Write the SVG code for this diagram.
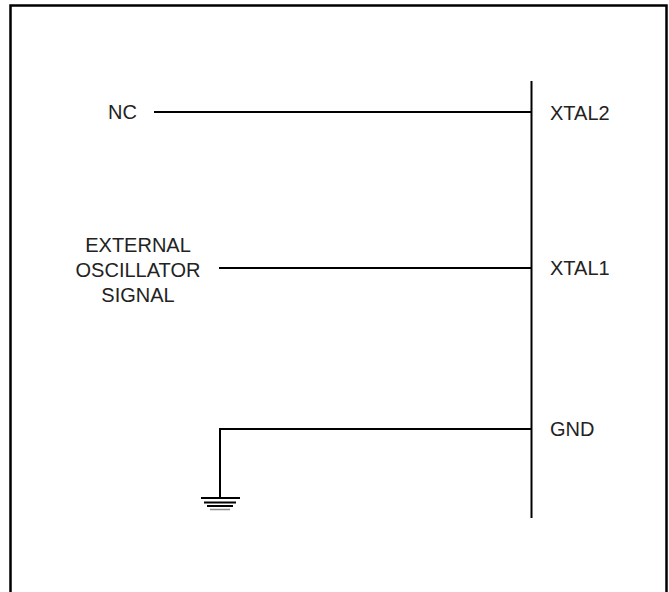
<svg xmlns="http://www.w3.org/2000/svg" width="669" height="592" viewBox="0 0 669 592">
<style>
.w{stroke:#000;stroke-width:2;fill:none}
.t{font-family:"Liberation Sans",Arial,sans-serif;font-size:20px;fill:#222}
</style>
<rect x="0" y="0" width="669" height="592" fill="#fff"/>
<rect x="10.5" y="5.5" width="656" height="600" fill="none" stroke="#000" stroke-width="2.5"/>
<g id="bus"><line class="w" x1="531.5" y1="81" x2="531.5" y2="518"/></g>
<g id="connectors">
<line class="w" x1="154" y1="112" x2="531" y2="112"/>
<line class="w" x1="219" y1="268" x2="531" y2="268"/>
<polyline class="w" points="531,429 220,429 220,498"/>
</g>
<g id="ground">
<line class="w" x1="201" y1="498" x2="240" y2="498"/>
<line class="w" x1="204" y1="502.5" x2="236" y2="502.5"/>
<line class="w" x1="207" y1="506" x2="233" y2="506"/>
<line x1="210" y1="509.5" x2="230" y2="509.5" stroke="#888" stroke-width="1.5"/>
</g>
<g id="nc"><text class="t" x="108" y="119">NC</text></g>
<g id="ext"><text class="t" text-anchor="middle" x="138"><tspan x="138" y="252">EXTERNAL</tspan><tspan x="138" y="277">OSCILLATOR</tspan><tspan x="138" y="302">SIGNAL</tspan></text></g>
<g id="xtal2"><text class="t" x="550" y="120">XTAL2</text></g>
<g id="xtal1"><text class="t" x="550" y="275">XTAL1</text></g>
<g id="gnd"><text class="t" x="550" y="436">GND</text></g>
</svg>
